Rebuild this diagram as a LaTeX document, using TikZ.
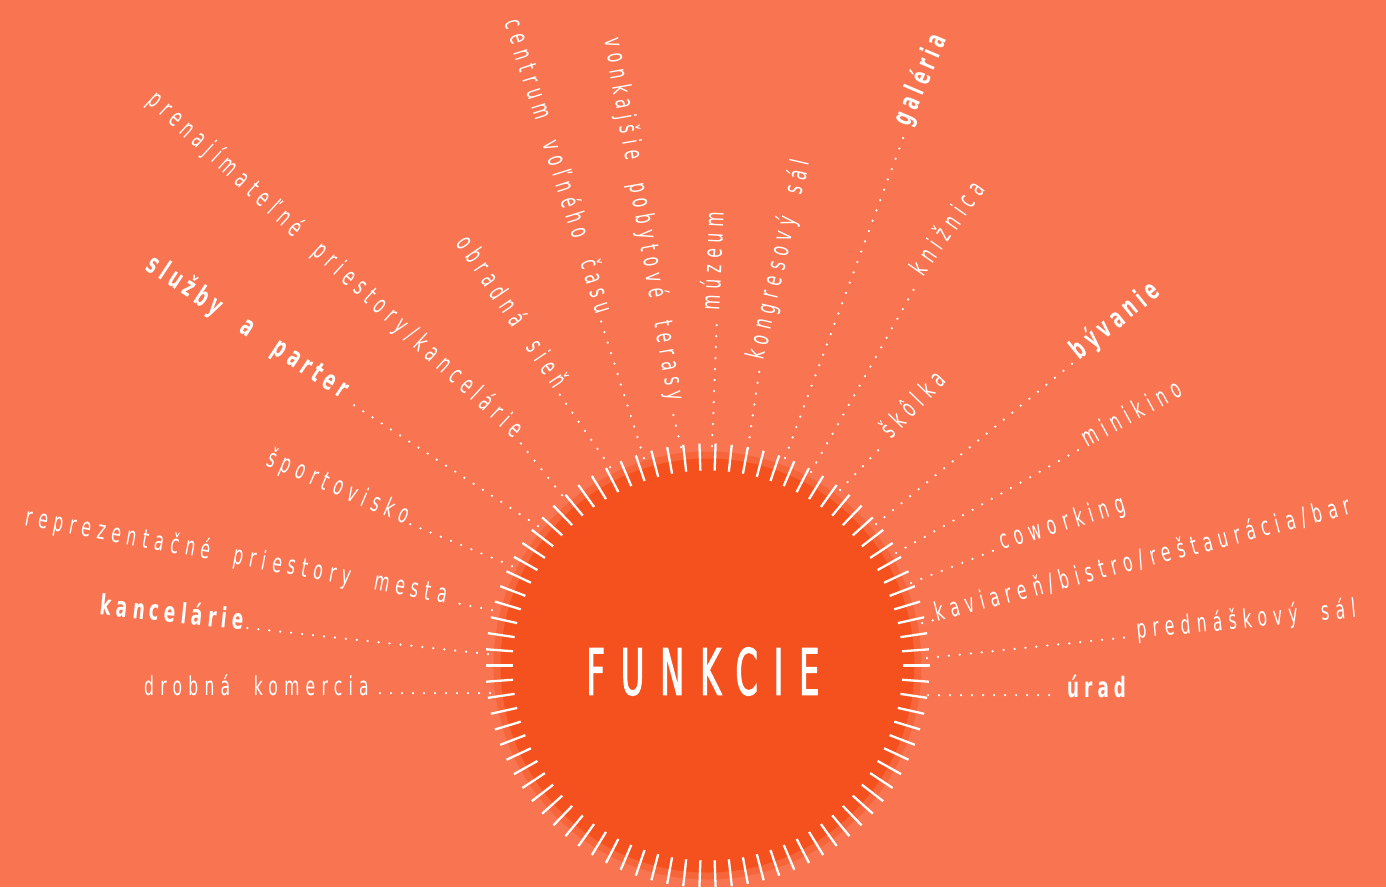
\documentclass[tikz,border=0pt]{standalone}
\usepackage{fontspec}
\usetikzlibrary{calc}
\newfontfamily\thinf{DejaVu Sans}[FakeStretch=0.6,LetterSpace=24,WordSpace=2.1]
\newfontfamily\boldf{DejaVu Sans Bold}[FakeStretch=0.6,LetterSpace=18,WordSpace=2.5]
\newfontfamily\bigf{DejaVu Sans}[FakeStretch=0.5,LetterSpace=25,FakeBold=1.5]
\definecolor{bgc}{HTML}{F97450}
\definecolor{ringc}{HTML}{F7663A}
\definecolor{diskc}{HTML}{F5511F}
\tikzset{
  tickline/.style={white, line width=2.3pt},
  dotline/.style={white, line width=2.5pt, line cap=round, dash pattern=on 0pt off 11pt},
  lbl/.style={text=white, inner sep=0pt, inner xsep=4pt},
  thinlbl/.style={lbl, font=\thinf\fontsize{26}{26}\selectfont},
  boldlbl/.style={lbl, font=\boldf\fontsize{28}{28}\selectfont},
  lft/.style={anchor=mid east},
  rgt/.style={anchor=mid west, inner xsep=7pt},
}
\begin{document}
\begin{tikzpicture}[x=1pt,y=-1pt]
\useasboundingbox (0,0) rectangle (1386,887);
\fill[bgc] (0,0) rectangle (1386,887);
\coordinate (C) at (707.5,665.5);
\fill[ringc] (C) circle[radius=214];
\fill[diskc] (C) circle[radius=207];
\foreach \i in {0,...,85}{
  \pgfmathsetmacro{\ang}{180+4.186047*\i}
  \draw[tickline] ($(C)+(\ang:195)$) -- ($(C)+(\ang:222)$);
}
\node[text=white, inner sep=0pt, font=\bigf\fontsize{64}{64}\selectfont] (fc) at (703,671.5) {FUNKCIE};

% left side
\coordinate (a1) at (490,693);   \coordinate (b1) at (373,693);
\coordinate (a2) at (488,654);   \coordinate (b2) at (247,628);
\coordinate (a3) at (492,610);   \coordinate (b3) at (450,602);
\coordinate (a4) at (512,566);   \coordinate (b4) at (410,524);
\coordinate (a5) at (538,526);   \coordinate (b5) at (346,400);
\coordinate (a6) at (562,495);   \coordinate (b6) at (518,440);
\coordinate (a7) at (610,467);   \coordinate (b7) at (558,392);
\coordinate (a8) at (644,458);   \coordinate (b8) at (600,318);
\coordinate (a9) at (681,447);   \coordinate (b9) at (671,405);
% right side
\coordinate (c1) at (928,695);   \coordinate (d1) at (1060,695);
\coordinate (c2) at (927,658);   \coordinate (d2) at (1130,637);
\coordinate (c3) at (922,623);   \coordinate (d3) at (934,620);
\coordinate (c4) at (911,583);   \coordinate (d4) at (995,550);
\coordinate (c5) at (896,553);   \coordinate (d5) at (1080,449);
\coordinate (c6) at (876,524);   \coordinate (d6) at (1073,363);
\coordinate (c7) at (840,490);   \coordinate (d7) at (885,443);
\coordinate (c8) at (811,472);   \coordinate (d8) at (918,282);
\coordinate (c9) at (785,458);   \coordinate (d9) at (905,133);
\coordinate (c10) at (748,448);  \coordinate (d10) at (760,367);
\coordinate (c11) at (712,446);  \coordinate (d11) at (717,318);

\foreach \n in {1,...,9}{\draw[dotline] (a\n) -- (b\n);}
\foreach \n in {1,...,11}{\draw[dotline] (c\n) -- (d\n);}

\node[thinlbl, lft, rotate=0]     (t1) at (b1) {drobná komercia};
\node[boldlbl, lft, rotate=-6]    (t2) at (b2) {kancelárie};
\node[thinlbl, lft, rotate=-10.5] (t3) at (b3) {reprezentačné priestory mesta};
\node[thinlbl, lft, rotate=-23]   (t4) at (b4) {športovisko};
\node[boldlbl, lft, rotate=-33.5] (t5) at (b5) {služby a parter};
\node[thinlbl, lft, rotate=-42.5] (t6) at (b6) {prenajímateľné priestory/kancelárie};
\node[thinlbl, lft, rotate=-56]   (t7) at (b7) {obradná sieň};
\node[thinlbl, lft, rotate=-72.5] (t8) at (b8) {centrum voľného času};
\node[thinlbl, lft, rotate=-80]   (t9) at (b9) {vonkajšie pobytové terasy};

\node[boldlbl, rgt, rotate=0]     (u1) at (d1) {úrad};
\node[thinlbl, rgt, rotate=5.5]   (u2) at (d2) {prednáškový sál};
\node[thinlbl, rgt, rotate=14.5, inner xsep=3pt] (u3) at (d3) {kaviareň/bistro/reštaurácia/bar};
\node[thinlbl, rgt, rotate=17]    (u4) at (d4) {coworking};
\node[thinlbl, rgt, rotate=28.5]  (u5) at (d5) {minikino};
\node[boldlbl, rgt, rotate=39]    (u6) at (d6) {bývanie};
\node[thinlbl, rgt, rotate=46]    (u7) at (d7) {škôlka};
\node[thinlbl, rgt, rotate=55]    (u8) at (d8) {knižnica};
\node[boldlbl, rgt, rotate=67]    (u9) at (d9) {galéria};
\node[thinlbl, rgt, rotate=77]    (u10) at (d10) {kongresový sál};
\node[thinlbl, rgt, rotate=87.5]  (u11) at (d11) {múzeum};
\end{tikzpicture}
\end{document}
